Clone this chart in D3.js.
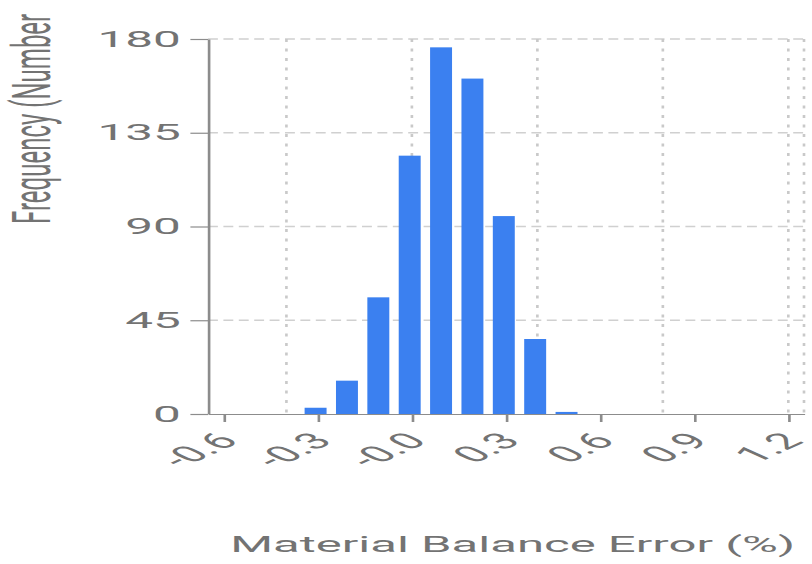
<!DOCTYPE html>
<html><head><meta charset="utf-8">
<script src="https://cdn.jsdelivr.net/npm/d3@7"></script>
<style>html,body{margin:0;padding:0;background:#fff;} svg{display:block;}</style>
</head><body><svg id="c" width="812" height="564"></svg>
<script>
// Data (bin centers of Material Balance Error, %)
const binCenters = [-0.3, -0.2, -0.1, 0.0, 0.1, 0.2, 0.3, 0.4, 0.5];
const frequency = [3, 16, 56, 124, 176, 161, 95, 36, 1];
const xTickValues = [-0.6, -0.3, 0.0, 0.3, 0.6, 0.9, 1.2];
const xTickLabels = ["-0.6", "-0.3", "-0.0", "0.3", "0.6", "0.9", "1.2"];
const yTickValues = [0, 45, 90, 135, 180];
const xGridValues = [-0.4, 0.0, 0.4, 0.8, 1.2];
const xTitle = "Material Balance Error (%)";
const yTitle = "Frequency (Number";

const SX = 2.2; // horizontal stretch of the whole chart
const W = 812, H = 564;
const FONT = "Roboto, 'Open Sans', sans-serif";
const TXT = "#737373", AXIS = "#8c8c8c";

const svg = d3.select("#c");
svg.append("rect").attr("width", W).attr("height", H).attr("fill", "#fff");
const g = svg.append("g").attr("transform", `scale(${SX},1)`);

const x = d3.scaleLinear().domain([-0.65, 1.25]).range([208 / SX, 804 / SX]);
const y = d3.scaleLinear().domain([0, 180]).range([414, 39]);
const [x0, x1] = x.range();

// horizontal dashed grid
g.append("g").selectAll("line").data(yTickValues.filter(v => v > 0)).join("line")
  .attr("x1", x0).attr("x2", x1)
  .attr("y1", d => y(d)).attr("y2", d => y(d))
  .attr("stroke", "#d0d0d0").attr("stroke-width", 1.3).attr("stroke-dasharray", "4.5,2.5");

// vertical dotted grid
g.append("g").selectAll("line").data(xGridValues.map(v => x(v)).concat([x1])).join("line")
  .attr("x1", d => d).attr("x2", d => d)
  .attr("y1", y(180)).attr("y2", y(0))
  .attr("stroke", "#c9c9c9").attr("stroke-width", 1.2).attr("stroke-dasharray", "3,6.5");

// bars
const step = x(0.1) - x(0);
const bw = step * 0.7;
g.append("g").selectAll("rect").data(binCenters).join("rect")
  .attr("x", d => x(d) - bw / 2 - 1)
  .attr("width", bw)
  .attr("y", (d, i) => y(frequency[i]))
  .attr("height", (d, i) => y(0) - y(frequency[i]))
  .attr("fill", "#3b80f0");

// y axis
const ya = g.append("g").attr("transform", `translate(${x0},0)`)
  .call(d3.axisLeft(y).tickValues(yTickValues).tickSize(8).tickSizeOuter(0).tickPadding(4.3));
ya.selectAll("path,line").attr("stroke", AXIS).attr("stroke-width", 1.2);
ya.selectAll("text").attr("fill", TXT).attr("font-size", 22.5).attr("font-family", FONT);

// x axis
const xa = g.append("g").attr("transform", `translate(0,${y(0)})`)
  .call(d3.axisBottom(x).tickValues(xTickValues).tickFormat((d, i) => xTickLabels[i])
    .tickSize(8).tickSizeOuter(0));
xa.selectAll("path,line").attr("stroke", AXIS).attr("stroke-width", 1.2);
xa.selectAll("text")
  .attr("fill", TXT).attr("font-size", 22.5).attr("font-family", FONT)
  .attr("x", 0).attr("y", 0).attr("dy", 0)
  .attr("text-anchor", "end")
  .attr("transform", "translate(7,28) rotate(-45)");

// titles
g.append("text").text(xTitle)
  .attr("x", (x0 + x1) / 2 + 3).attr("y", 552)
  .attr("text-anchor", "middle").attr("fill", TXT)
  .attr("font-size", 22.3).attr("font-family", FONT);

g.append("text").text(yTitle)
  .attr("transform", `translate(${50 / SX},224) rotate(-90)`)
  .attr("text-anchor", "start").attr("fill", TXT)
  .attr("font-size", 24).attr("font-family", FONT);
</script>
</body></html>
